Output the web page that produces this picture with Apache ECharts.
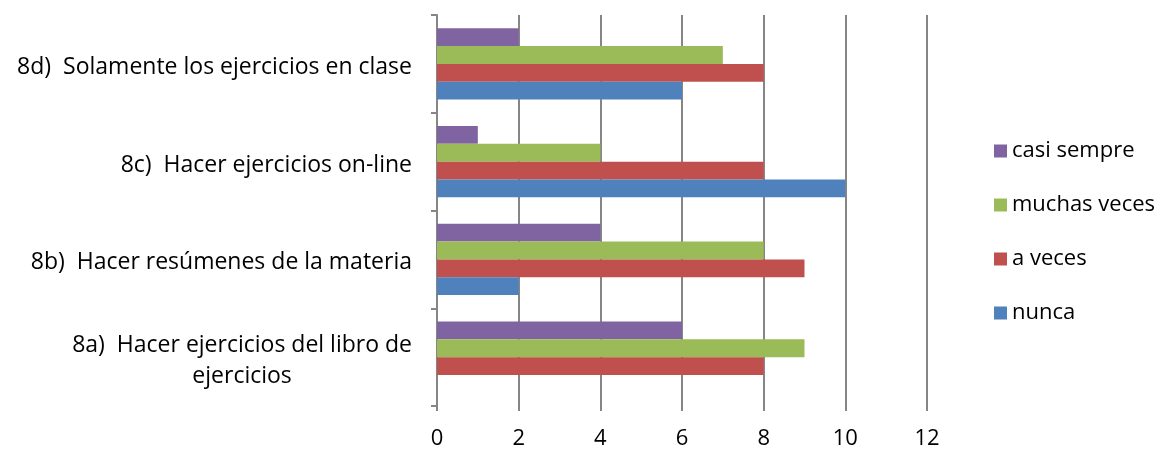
<!DOCTYPE html>
<html>
<head>
<meta charset="utf-8">
<script src="https://cdn.jsdelivr.net/npm/echarts@6/dist/echarts.min.js"></script>
<style>
  html, body { margin: 0; padding: 0; background: #fff; }
  #chart { width: 1163px; height: 450px; }
</style>
</head>
<body>
<div id="chart"></div>
<script>
// Categories, bottom to top
const categories = [
  '8a)  Hacer ejercicios del libro de\nejercicios',
  '8b)  Hacer resúmenes de la materia',
  '8c)  Hacer ejercicios on-line',
  '8d)  Solamente los ejercicios en clase'
];
// Series, listed top bar first within each category
const seriesNames = ['casi sempre', 'muchas veces', 'a veces', 'nunca'];
const casiSempre = [6, 4, 1, 2];
const muchasVeces = [9, 8, 4, 7];
const aVeces = [8, 9, 8, 8];
const nunca = [0, 2, 10, 6];
const xTicks = [0, 2, 4, 6, 8, 10, 12];

const colors = ['#8064A2', '#9BBB59', '#C0504D', '#4F81BD'];
const values = [casiSempre, muchasVeces, aVeces, nunca];
const FONT = '"Open Sans", Lato, sans-serif';

const chart = echarts.init(document.getElementById('chart'));
chart.setOption({
  animation: false,
  textStyle: { fontFamily: FONT },
  grid: { left: 437, right: 236, top: 15, bottom: 43, containLabel: false },
  legend: {
    orient: 'vertical',
    left: 989,
    top: 133,
    itemWidth: 13,
    itemHeight: 13,
    itemGap: 28,
    icon: 'rect',
    data: seriesNames,
    textStyle: { fontFamily: FONT, fontSize: 22, color: '#000', lineHeight: 26 }
  },
  xAxis: {
    type: 'value',
    min: xTicks[0],
    max: xTicks[xTicks.length - 1],
    interval: 2,
    axisLine: { show: false },
    axisTick: { show: true, length: 5, lineStyle: { color: '#868686', width: 2 } },
    axisLabel: { fontFamily: FONT, fontSize: 22, color: '#000', margin: 22 },
    splitLine: { show: true, lineStyle: { color: '#868686', width: 2 } }
  },
  yAxis: {
    type: 'category',
    data: categories,
    axisLine: { show: true, lineStyle: { color: '#868686', width: 2 } },
    axisTick: { show: true, length: 6, lineStyle: { color: '#868686', width: 2 } },
    axisLabel: {
      margin: 25,
      fontFamily: FONT,
      fontSize: 23,
      color: '#000',
      padding: [7, 0, 0, 0],
      formatter: function (v) {
        return v.split('\n').map(function (l) { return '{c|' + l + '}'; }).join('\n');
      },
      rich: {
        c: { fontFamily: FONT, fontSize: 23, color: '#000', align: 'center', lineHeight: 31 }
      }
    }
  },
  series: values.map(function (d, i) {
    return {
      name: seriesNames[i],
      type: 'bar',
      data: d,
      barGap: '0%',
      barCategoryGap: '27%',
      itemStyle: { color: colors[i] }
    };
  })
});
</script>
</body>
</html>
